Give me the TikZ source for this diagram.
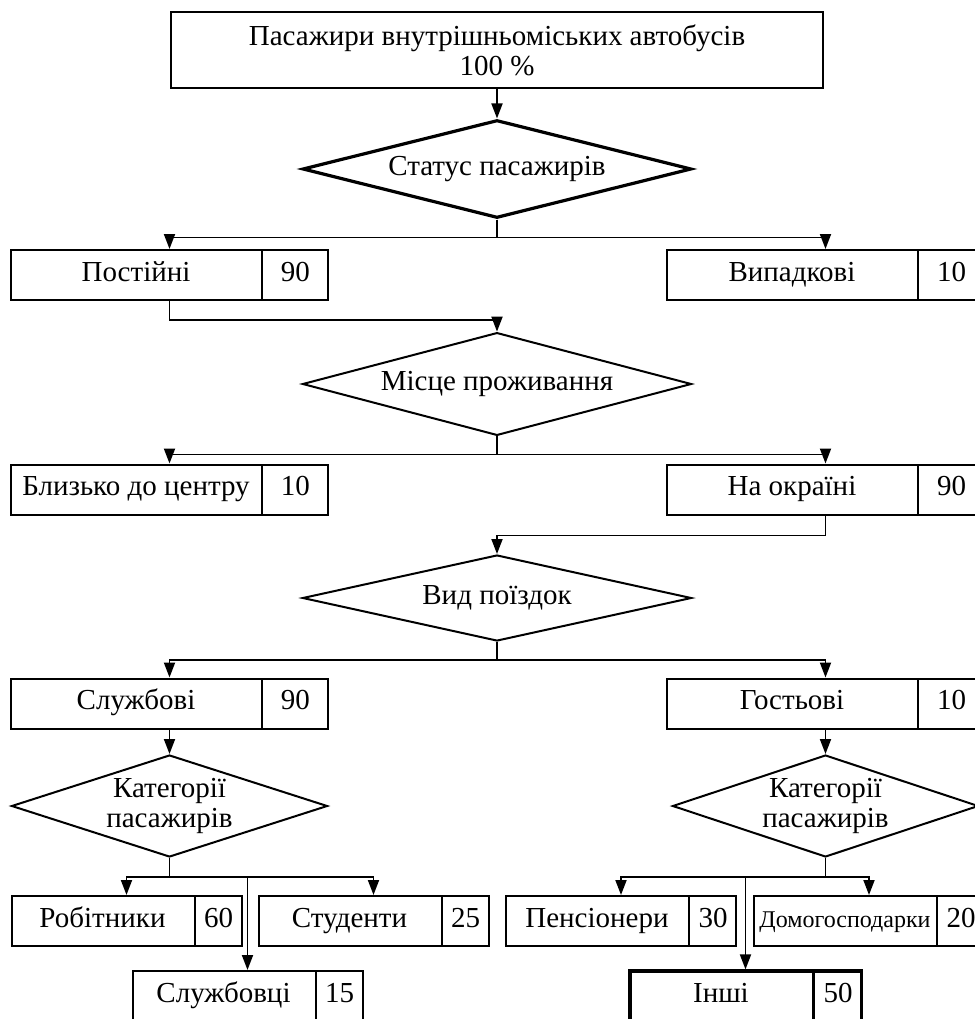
\documentclass[tikz,border=0pt]{standalone}
\usepackage{fontspec}
\setmainfont{Liberation Serif}
\usetikzlibrary{shapes.geometric, shapes.multipart, arrows.meta, positioning}
\newcommand{\bigcell}[2]{\makebox[125pt]{\strut#1}\nodepart{two}\makebox[32.5pt]{\strut#2}}
\newcommand{\smallcell}[2]{\makebox[91pt]{\strut#1}\nodepart{two}\makebox[23pt]{\strut#2}}

\begin{document}
\begin{tikzpicture}[
    x=0.5pt, y=-0.5pt,
    font=\fontsize{14.5}{15}\selectfont,
    title/.style={draw, line width=1.3pt, minimum width=326pt, minimum height=38pt, align=center, inner sep=0pt},
    decision/.style={draw, diamond, line width=1pt, aspect=3, inner sep=0pt, align=center, minimum width=194.5pt, minimum height=43pt},
    cell/.style={draw, line width=1pt, rectangle split, rectangle split horizontal, rectangle split parts=2, inner xsep=0pt, inner ysep=0pt, minimum height=25pt},
    arrow/.style={-{Triangle[length=7.5pt, width=5.5pt]}, line width=0.9pt}
]
    \useasboundingbox (0,0) rectangle (975,1019);
    \clip (0,0) rectangle (975,1019);

    % Top level
    \node[title] (pas) at (497,50) {Пасажири внутрішньоміських автобусів\\100 \%};
    \node[decision, line width=1.6pt] (stat) at (497,169) {Статус пасажирів};
    \node[cell] (post) at (169.5,275) {\bigcell{Постійні}{90}};
    \node[cell] (vyp) at (825.5,275) {\bigcell{Випадкові}{10}};

    % Place of living
    \node[decision] (misce) at (497,384) {Місце проживання};
    \node[cell] (blyz) at (169.5,489.5) {\bigcell{Близько до центру}{10}};
    \node[cell] (okr) at (825.5,489.5) {\bigcell{На окраїні}{90}};

    % Kind of trips
    \node[decision] (vyd) at (497,598) {Вид поїздок};
    \node[cell] (sluzh) at (169.5,703.5) {\bigcell{Службові}{90}};
    \node[cell] (gost) at (825.5,703.5) {\bigcell{Гостьові}{10}};

    % Categories
    \node[decision, minimum width=158pt, minimum height=51pt] (katl) at (169.5,806) {Категорії\\пасажирів};
    \node[decision, minimum width=153pt, minimum height=51pt] (katr) at (825.5,806) {Категорії\\пасажирів};
    \node[cell] (rob) at (126.5,921) {\smallcell{Робітники}{60}};
    \node[cell] (stud) at (373.5,921) {\smallcell{Студенти}{25}};
    \node[cell] (sluzhb) at (247.5,996) {\smallcell{Службовці}{15}};
    \node[cell] (pens) at (621,921) {\smallcell{Пенсіонери}{30}};
    \node[cell] (domo) at (869,921) {\smallcell{\fontsize{12}{13}\selectfont Домогосподарки}{20}};
    \node[cell, line width=1.6pt] (inshi) at (745.5,996) {\smallcell{Інші}{50}};

    % Connections
    \draw[arrow] (pas) -- (stat);
    \draw[arrow] (stat.south) -- ++(0,18) -| (post.north);
    \draw[arrow] (stat.south) -- ++(0,18) -| (vyp.north);
    \draw[arrow] (post.south) -- ++(0,19) -| (misce.north);
    \draw[arrow] (misce.south) -- ++(0,18) -| (blyz.north);
    \draw[arrow] (misce.south) -- ++(0,18) -| (okr.north);
    \draw[arrow] (okr.south) -- ++(0,20) -| (vyd.north);
    \draw[arrow] (vyd.south) -- ++(0,18) -| (sluzh.north);
    \draw[arrow] (vyd.south) -- ++(0,18) -| (gost.north);
    \draw[arrow] (sluzh.south) -- (katl.north);
    \draw[arrow] (gost.south) -- (katr.north);
    \draw[arrow] (katl.south) -- ++(0,19) -| (rob.north);
    \draw[arrow] (katl.south) -- ++(0,19) -| (stud.north);
    \draw[arrow] (katl.south) -- ++(0,19) -| (sluzhb.north);
    \draw[arrow] (katr.south) -- ++(0,19) -| (pens.north);
    \draw[arrow] (katr.south) -- ++(0,19) -| (domo.north);
    \draw[arrow] (katr.south) -- ++(0,19) -| (inshi.north);
\end{tikzpicture}
\end{document}
